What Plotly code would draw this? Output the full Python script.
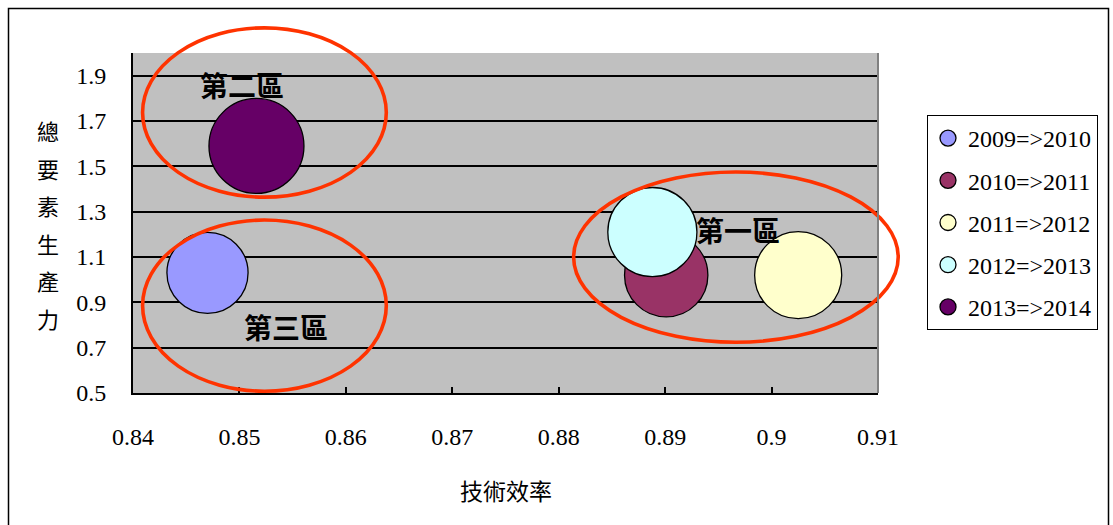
import math
import plotly.graph_objects as go

# Period-over-period bubble data
periods = ["2009=>2010", "2010=>2011", "2011=>2012", "2012=>2013", "2013=>2014"]
tech_eff = [0.847, 0.8901, 0.9025, 0.8888, 0.8516]      # 技術效率
tfp = [1.03, 1.02, 1.02, 1.21, 1.59]                     # 總要素生產力
bubble_value = [0.73, 0.77, 0.84, 0.88, 1.00]            # relative bubble size
colors = ["#9999FF", "#993366", "#FFFFCC", "#CCFFFF", "#660066"]

# Zone labels (text, x, y)
zone_text = ["第二區", "第三區", "第一區"]
zone_x = [0.8502, 0.8544, 0.8968]
zone_y = [1.86, 0.79, 1.22]
# Zone ellipses (x0, x1, y0, y1) in data units
zone_x0 = [0.8409, 0.8409, 0.8814]
zone_x1 = [0.8638, 0.8638, 0.9119]
zone_y0 = [1.364, 0.508, 0.724]
zone_y1 = [2.111, 1.263, 1.475]

X_RANGE = [0.84, 0.91]
Y_RANGE = [0.5, 2.0]
W, H = 1113, 525
ML, MR, MT, MB = 133, 235, 53, 132
PW, PH = W - ML - MR, H - MT - MB

NUM_FONT = "Liberation Serif"
CJK_FONT = "Noto Sans CJK TC"


def px_x(v):
    return (v - X_RANGE[0]) / (X_RANGE[1] - X_RANGE[0])


def px_y(v):
    return (v - Y_RANGE[0]) / (Y_RANGE[1] - Y_RANGE[0])


def paper_from_pixel_x(p):
    return (p - ML) / PW


def paper_from_pixel_y(p):
    return (H - MB - p) / PH


max_diam = 95
vmax = max(bubble_value)

fig = go.Figure()
for i, name in enumerate(periods):
    d = max_diam * math.sqrt(bubble_value[i] / vmax)
    fig.add_trace(go.Scatter(
        x=[tech_eff[i]], y=[tfp[i]],
        mode="markers",
        name=name,
        legendgroup=name,
        marker=dict(size=d, color=colors[i], opacity=1,
                    line=dict(color="black", width=1.3)),
    ))

shapes = []
# zone ellipses
for i in range(len(zone_text)):
    shapes.append(dict(
        type="circle", xref="paper", yref="paper",
        x0=px_x(zone_x0[i]), x1=px_x(zone_x1[i]),
        y0=px_y(zone_y0[i]), y1=px_y(zone_y1[i]),
        line=dict(color="#FF3300", width=3.6), layer="above",
    ))
# right edge of plotting area
shapes.append(dict(type="line", xref="paper", yref="paper", x0=1, x1=1, y0=0, y1=1,
                   line=dict(color="#808080", width=2), layer="above"))
# outer chart frame
shapes.append(dict(type="rect", xref="paper", yref="paper",
                   x0=paper_from_pixel_x(8.5), x1=paper_from_pixel_x(1108.5),
                   y0=paper_from_pixel_y(530), y1=paper_from_pixel_y(8.5),
                   line=dict(color="black", width=1.5), layer="below"))

annotations = []
for i, t in enumerate(zone_text):
    annotations.append(dict(
        x=zone_x[i], y=zone_y[i], xref="x", yref="y", text="<b>" + t + "</b>",
        showarrow=False, font=dict(family=CJK_FONT, size=28, color="black"),
        xanchor="center", yanchor="middle",
    ))
# vertical y-axis title
ytitle = "總要素生產力"
for k, ch in enumerate(ytitle):
    annotations.append(dict(
        x=paper_from_pixel_x(48), y=paper_from_pixel_y(130 + k * 37.6),
        xref="paper", yref="paper", text=ch, showarrow=False,
        font=dict(family=CJK_FONT, size=22, color="black"),
        xanchor="center", yanchor="middle",
    ))
# x-axis title
annotations.append(dict(
    x=0.5, y=paper_from_pixel_y(490), xref="paper", yref="paper",
    text="技術效率", showarrow=False,
    font=dict(family=CJK_FONT, size=23, color="black"),
    xanchor="center", yanchor="middle",
))

fig.update_layout(
    width=W, height=H,
    margin=dict(l=ML, r=MR, t=MT, b=MB, autoexpand=False),
    paper_bgcolor="white",
    plot_bgcolor="#C0C0C0",
    showlegend=True,
    legend=dict(
        x=paper_from_pixel_x(927), y=paper_from_pixel_y(115),
        xanchor="left", yanchor="top",
        bgcolor="white", bordercolor="black", borderwidth=1,
        font=dict(family=NUM_FONT, size=24, color="black"),
        itemsizing="trace", tracegroupgap=8,
    ),
    xaxis=dict(
        range=X_RANGE, tick0=0.84, dtick=0.01,
        showgrid=False, zeroline=False,
        showline=True, linecolor="black", linewidth=2,
        ticks="inside", ticklen=6, tickwidth=1.5, tickcolor="black",
        tickfont=dict(family=NUM_FONT, size=24, color="black"),
        ticklabelstandoff=21,
    ),
    yaxis=dict(
        range=Y_RANGE, tick0=0.5, dtick=0.2,
        showgrid=True, gridcolor="black", gridwidth=1.5,
        zeroline=False,
        showline=True, linecolor="black", linewidth=2,
        ticks="",
        tickfont=dict(family=NUM_FONT, size=24, color="black"),
        ticklabelstandoff=20,
    ),
    shapes=shapes,
    annotations=annotations,
)

fig.write_html("out.html")
